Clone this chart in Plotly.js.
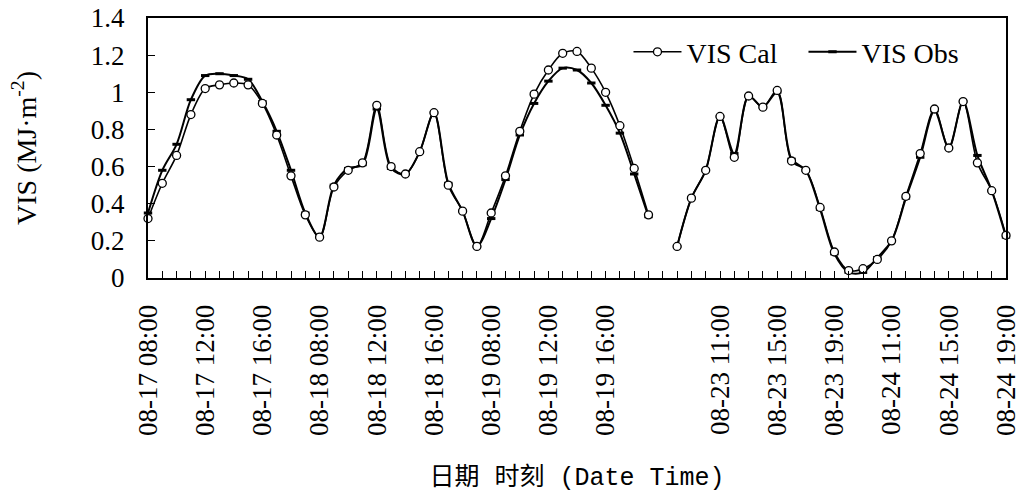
<!DOCTYPE html>
<html>
<head>
<meta charset="utf-8">
<script src="https://cdn.plot.ly/plotly-3.0.1.min.js"></script>
<style>html,body{margin:0;padding:0;background:#fff;}#chart{width:1020px;height:493px;}</style>
</head>
<body>
<div id="chart"></div>
<script>
// Dates and hourly slots (a blank slot separates 08-19 and 08-23)
const days1 = ["08-17", "08-18", "08-19"];
const days2 = ["08-23", "08-24"];
const hours = ["08:00","09:00","10:00","11:00","12:00","13:00","14:00","15:00","16:00","17:00","18:00","19:00"];

// VIS calculated (MJ·m-2)
const visCal = [
  0.32, 0.51, 0.66, 0.88, 1.02, 1.04, 1.05, 1.04, 0.94, 0.77, 0.55, 0.34,
  0.22, 0.49, 0.58, 0.62, 0.93, 0.60, 0.56, 0.68, 0.89, 0.50, 0.36, 0.17,
  0.35, 0.55, 0.79, 0.99, 1.12, 1.21, 1.22, 1.13, 1.00, 0.82, 0.59, 0.34,
  null,
  0.17, 0.43, 0.58, 0.87, 0.65, 0.98, 0.92, 1.01, 0.63, 0.58, 0.38, 0.14,
  0.04, 0.05, 0.10, 0.20, 0.44, 0.67, 0.91, 0.70, 0.95, 0.62, 0.47, 0.23
];
// VIS observed (MJ·m-2)
const visObs = [
  0.35, 0.58, 0.72, 0.96, 1.09, 1.10, 1.09, 1.07, 0.95, 0.79, 0.58, 0.35,
  0.22, 0.50, 0.59, 0.61, 0.91, 0.59, 0.56, 0.68, 0.89, 0.51, 0.36, 0.17,
  0.32, 0.53, 0.77, 0.94, 1.06, 1.13, 1.12, 1.05, 0.93, 0.78, 0.56, 0.33,
  null,
  0.17, 0.43, 0.58, 0.87, 0.67, 0.98, 0.92, 1.00, 0.64, 0.58, 0.37, 0.13,
  0.03, 0.03, 0.11, 0.20, 0.43, 0.65, 0.90, 0.70, 0.95, 0.66, 0.47, 0.22
];

const categories = [];
days1.forEach(d => hours.forEach(h => categories.push(d + " " + h)));
categories.push("");
days2.forEach(d => hours.forEach(h => categories.push(d + " " + h)));

const xIdx = categories.map((c, i) => i);
const tickText = categories.map((c, i) => (i % 4 === 0 ? c : ""));

const serif = "Liberation Serif";

const traces = [
  {
    x: xIdx, y: visObs, name: "VIS Obs", type: "scatter", mode: "lines+markers",
    connectgaps: false, cliponaxis: false,
    line: {color: "#000", width: 2, shape: "spline", smoothing: 0.9},
    marker: {symbol: "line-ew", size: 6, color: "#000", line: {color: "#000", width: 3}}
  },
  {
    x: xIdx, y: visCal, name: "VIS Cal", type: "scatter", mode: "lines+markers",
    connectgaps: false, cliponaxis: false,
    line: {color: "#000", width: 1.6, shape: "spline", smoothing: 0.9},
    marker: {symbol: "circle", size: 8, color: "#fff", line: {color: "#000", width: 1.3}}
  }
];

const layout = {
  width: 1020, height: 493,
  margin: {l: 148, r: 14, t: 18, b: 215, autoexpand: false},
  paper_bgcolor: "#fff", plot_bgcolor: "#fff",
  font: {family: serif, size: 27, color: "#000"},
  showlegend: true,
  legend: {
    orientation: "h", traceorder: "reversed",
    x: 0.56, xanchor: "left", y: 0.965, yanchor: "top",
    bgcolor: "rgba(0,0,0,0)",
    font: {size: 28},
    itemwidth: 48,
    entrywidth: 112, entrywidthmode: "pixels"
  },
  xaxis: {
    range: [0, 60],
    tickmode: "array", tickvals: xIdx, ticktext: tickText,
    tickangle: -90,
    ticks: "inside", ticklen: 7, tickwidth: 1, tickcolor: "#000",
    ticklabelstandoff: 14, ticklabeloverflow: "allow",
    showgrid: false, zeroline: false,
    showline: true, linecolor: "#000", linewidth: 2, mirror: true,
    tickfont: {family: serif, size: 27, color: "#000"},
    title: {text: "日期 时刻 (Date Time)", standoff: 34,
            font: {family: "Liberation Mono, Noto Sans CJK SC, monospace", size: 25, color: "#000"}}
  },
  yaxis: {
    range: [0, 1.4], dtick: 0.2, tick0: 0,
    ticks: "inside", ticklen: 7, tickwidth: 1, tickcolor: "#000",
    ticklabelstandoff: 16,
    showgrid: false, zeroline: false,
    showline: true, linecolor: "#000", linewidth: 2, mirror: true,
    tickfont: {family: serif, size: 27, color: "#000"},
    title: {text: "VIS (MJ·m<sup>-2</sup>)", standoff: 46,
            font: {size: 28}}
  }
};

Plotly.newPlot("chart", traces, layout, {displayModeBar: false, staticPlot: true});
</script>
</body>
</html>
